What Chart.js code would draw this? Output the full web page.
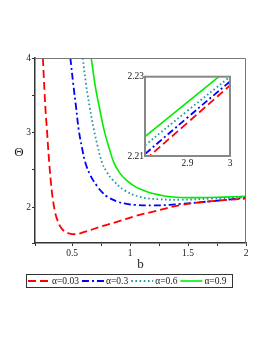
<!DOCTYPE html>
<html>
<head>
<meta charset="utf-8">
<script src="https://cdn.jsdelivr.net/npm/chart.js@4.4.0/dist/chart.umd.min.js"></script>
<style>
  html, body { margin: 0; padding: 0; background: #fff; }
  #wrap { position: relative; width: 266px; height: 344px; }
  #main { position: absolute; left: 0; top: 0; }
  #inset { position: absolute; left: 125px; top: 70px; }
</style>
</head>
<body>
<div id="wrap">
  <canvas id="main" width="266" height="344" style="width:266px;height:344px"></canvas>
  <canvas id="inset" width="110" height="100" style="width:110px;height:100px"></canvas>
</div>
<script>
// series labels
var labels = ['\u03b1=0.03', '\u03b1=0.3', '\u03b1=0.6', '\u03b1=0.9']

// main plot (b, Theta)
var b_003 = [0.248, 0.262, 0.273, 0.283, 0.293, 0.303, 0.315, 0.331, 0.355, 0.375, 0.398, 0.43, 0.47, 0.529, 0.6, 0.76, 0.9, 1.05, 1.2, 1.44, 1.7, 2.0]
var th_003 = [4.0, 3.55, 3.25, 3.04, 2.8, 2.59, 2.37, 2.14, 1.92, 1.82, 1.74, 1.68, 1.65, 1.638, 1.665, 1.745, 1.81, 1.883, 1.94, 2.03, 2.08, 2.115]

var b_03 = [0.485, 0.51, 0.535, 0.557, 0.585, 0.616, 0.66, 0.717, 0.76, 0.804, 0.891, 0.95, 1.05, 1.2, 1.34, 1.44, 1.7, 2.0]
var th_03 = [4.0, 3.65, 3.33, 3.04, 2.8, 2.59, 2.42, 2.28, 2.2, 2.14, 2.075, 2.05, 2.03, 2.025, 2.03, 2.044, 2.08, 2.125]

var b_06 = [0.592, 0.62, 0.653, 0.688, 0.72, 0.76, 0.8, 0.848, 0.949, 1.08, 1.25, 1.44, 1.7, 2.0]
var th_06 = [4.0, 3.65, 3.33, 3.04, 2.82, 2.59, 2.47, 2.37, 2.23, 2.14, 2.107, 2.1, 2.115, 2.135]

var b_09 = [0.665, 0.70, 0.731, 0.775, 0.82, 0.862, 0.91, 0.963, 1.03, 1.109, 1.18, 1.253, 1.35, 1.44, 1.6, 1.8, 2.0]
var th_09 = [4.0, 3.62, 3.37, 3.04, 2.79, 2.59, 2.46, 2.37, 2.29, 2.23, 2.19, 2.165, 2.14, 2.13, 2.128, 2.135, 2.145]

// inset (b from 2.8 to 3)
var b_in = [2.8, 2.9, 3.0]
var th_in_003 = [2.2090, 2.2184, 2.2278]
var th_in_03 = [2.2105, 2.2197, 2.2288]
var th_in_06 = [2.2127, 2.2214, 2.2300]
var th_in_09 = [2.2149, 2.2236, 2.2323]

var mainXTicks = [0.5, 1, 1.5, 2]
var mainYTicks = [2, 3, 4]

var serif = "'Liberation Serif', 'Times New Roman', serif"
var styles = [
  {color: '#ff0000', dash: [8, 4], width: 1.8},
  {color: '#0000ff', dash: [7, 3, 2, 3], width: 1.8},
  {color: '#1a9a9a', dash: [1.6, 2.6], width: 1.8},
  {color: '#00ee00', dash: [], width: 1.6}
]

function pts(xs, ys) {
  return xs.map(function(x, i) { return {x: x, y: ys[i]} })
}

function makeSets(series) {
  return series.map(function(s, i) {
    return {
      label: labels[i],
      data: pts(s[0], s[1]),
      borderColor: styles[i].color,
      backgroundColor: styles[i].color,
      borderDash: styles[i].dash,
      borderWidth: styles[i].width,
      pointRadius: 0,
      tension: 0.4,
      fill: false,
      clip: 0
    }
  })
}

function keepInside(scale) {
  scale.ticks = scale.ticks.filter(function(t) {
    return t.value >= scale.min - 1e-9 && t.value <= scale.max + 1e-9
  })
}

// frame, axis titles and boxed legend
const decorations = {
  id: 'decorations',
  afterDraw(chart) {
    const {ctx, chartArea: {left, right, top, bottom}} = chart
    ctx.save()
    ctx.strokeStyle = '#777'
    ctx.lineWidth = 1
    ctx.beginPath()
    ctx.moveTo(left, top + 0.5)
    ctx.lineTo(right - 0.5, top + 0.5)
    ctx.lineTo(right - 0.5, bottom)
    ctx.stroke()

    ctx.fillStyle = '#222'
    ctx.font = '13px ' + serif
    ctx.textAlign = 'center'
    ctx.textBaseline = 'middle'
    ctx.fillText('\u0398', 19, 153)
    ctx.fillText('b', (left + right) / 2, 265)

    // legend
    var lx = 26, ly = 274, lw = 206, lh = 13
    ctx.strokeStyle = '#333'
    ctx.lineWidth = 1
    ctx.strokeRect(lx + 0.5, ly + 0.5, lw, lh)
    ctx.font = '9.5px ' + serif
    ctx.textAlign = 'left'
    var x = lx + 2
    var cy = ly + lh / 2 + 0.5
    chart.data.datasets.forEach(function(ds) {
      ctx.beginPath()
      ctx.setLineDash(ds.borderDash)
      ctx.strokeStyle = ds.borderColor
      ctx.lineWidth = ds.borderWidth
      ctx.moveTo(x, cy)
      ctx.lineTo(x + 22, cy)
      ctx.stroke()
      ctx.setLineDash([])
      ctx.fillStyle = '#222'
      ctx.fillText(ds.label, x + 24, cy)
      x += 24 + ctx.measureText(ds.label).width + 3
    })
    ctx.restore()
  }
}

const mainChart = new Chart(document.getElementById('main'), {
  type: 'line',
  data: {
    datasets: makeSets([[b_003, th_003], [b_03, th_03], [b_06, th_06], [b_09, th_09]])
  },
  plugins: [decorations],
  options: {
    responsive: false,
    animation: false,
    layout: {padding: {left: 0, top: 58, right: 20, bottom: 71}},
    plugins: {legend: {display: false}, tooltip: {enabled: false}},
    scales: {
      x: {
        type: 'linear', min: 0.18, max: 2.0,
        afterFit: function(s) { s.height = 30 },
        afterBuildTicks: keepInside,
        border: {display: true, color: '#333', width: 1.5},
        grid: {drawOnChartArea: false, drawTicks: true, tickLength: 3, color: '#333'},
        ticks: {
          stepSize: 0.25, autoSkip: false, maxRotation: 0, padding: 2,
          color: '#222', font: {family: serif, size: 9.5},
          callback: function(v) { return mainXTicks.indexOf(v) >= 0 ? String(v) : '' }
        }
      },
      y: {
        type: 'linear', min: 1.52, max: 4,
        afterFit: function(s) { s.width = 35 },
        afterBuildTicks: keepInside,
        border: {display: true, color: '#333', width: 1.5},
        grid: {drawOnChartArea: false, drawTicks: true, tickLength: 3, color: '#333'},
        ticks: {
          stepSize: 0.5, autoSkip: false, padding: 1,
          color: '#222', font: {family: serif, size: 9.5},
          callback: function(v) { return mainYTicks.indexOf(v) >= 0 ? String(v) : '' }
        }
      }
    }
  }
})

// white box and grey frame for the inset
const insetFrame = {
  id: 'insetFrame',
  beforeDatasetsDraw(chart) {
    const {ctx, chartArea: {left, right, top, bottom}} = chart
    ctx.save()
    ctx.fillStyle = '#fff'
    ctx.fillRect(left, top, right - left, bottom - top)
    ctx.restore()
  },
  afterDraw(chart) {
    const {ctx, chartArea: {left, right, top, bottom}} = chart
    ctx.save()
    ctx.strokeStyle = '#888'
    ctx.lineWidth = 2
    ctx.strokeRect(left, top, right - left, bottom - top)
    ctx.restore()
  }
}

const insetChart = new Chart(document.getElementById('inset'), {
  type: 'line',
  data: {
    datasets: makeSets([[b_in, th_in_003], [b_in, th_in_03], [b_in, th_in_06], [b_in, th_in_09]])
  },
  plugins: [insetFrame],
  options: {
    responsive: false,
    animation: false,
    layout: {padding: {left: 0, top: 4, right: 5, bottom: 0}},
    plugins: {legend: {display: false}, tooltip: {enabled: false}},
    scales: {
      x: {
        type: 'linear', min: 2.8, max: 3.0,
        afterFit: function(s) { s.height = 14 },
        afterBuildTicks: keepInside,
        border: {display: false},
        grid: {drawOnChartArea: false, drawTicks: false},
        ticks: {
          stepSize: 0.1, autoSkip: false, maxRotation: 0, padding: 2,
          color: '#222', font: {family: serif, size: 9.5},
          callback: function(v) {
            var r = Math.round(v * 10)
            return r === 29 ? '2.9' : r === 30 ? '3' : ''
          }
        }
      },
      y: {
        type: 'linear', min: 2.21, max: 2.23,
        afterFit: function(s) { s.width = 20 },
        afterBuildTicks: keepInside,
        border: {display: false},
        grid: {drawOnChartArea: false, drawTicks: false},
        ticks: {
          stepSize: 0.01, autoSkip: false, padding: 1,
          color: '#222', font: {family: serif, size: 9.5},
          callback: function(v) {
            var r = Math.round(v * 100)
            return r === 221 ? '2.21' : r === 223 ? '2.23' : ''
          }
        }
      }
    }
  }
})
</script>
</body>
</html>
